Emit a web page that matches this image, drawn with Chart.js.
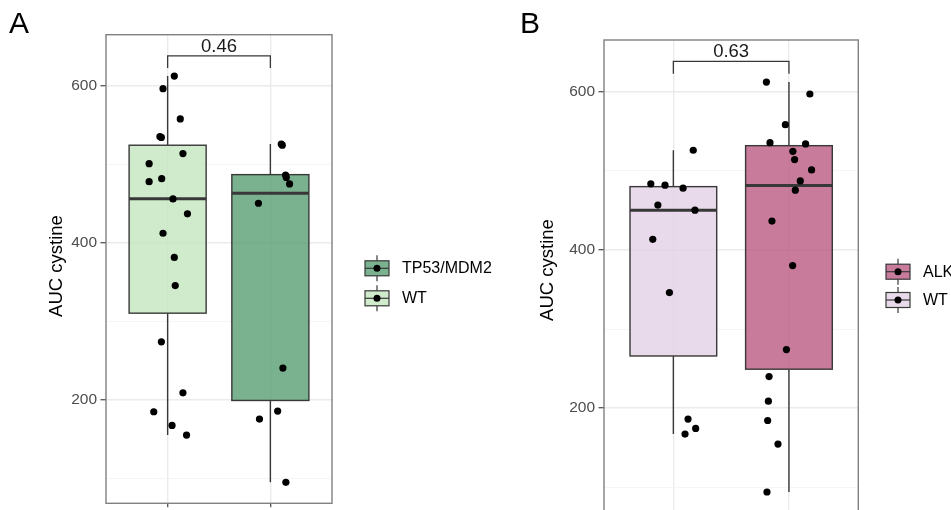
<!DOCTYPE html>
<html>
<head>
<meta charset="utf-8">
<title>AUC cystine by mutation status</title>
<script src="https://cdn.jsdelivr.net/npm/chart.js@4.4.1/dist/chart.umd.min.js"></script>
<style>
  html, body { margin: 0; padding: 0; background: #fff; overflow: hidden; width: 951px; height: 510px; }
  canvas { position: absolute; top: 0; }
  #panelA { left: 0; }
  #panelB { left: 475px; }
</style>
</head>
<body>
<canvas id="panelA" width="520" height="510"></canvas>
<canvas id="panelB" width="476" height="525"></canvas>
<script>
// shared y axis
const yTicks = [100, 200, 300, 400, 500, 600];
const yLabelled = [200, 400, 600];
const yMin = 68;
const yMax = 665.4;

// panel A: WT vs TP53/MDM2
const groupsA = ['WT', 'TP53/MDM2'];
const legendA = ['TP53/MDM2', 'WT'];
const pValueA = '0.46';
const wtA = [612.7, 596.6, 558, 535.5, 534.5, 513.8, 501, 478, 481.9, 456, 437, 412.3, 381.5, 345.6, 273.9, 208.9, 184.7, 167.3, 155];
const wtAJitter = [0.065, -0.045, 0.123, -0.075, -0.061, 0.149, -0.18, -0.18, -0.058, 0.052, 0.193, -0.045, 0.065, 0.074, -0.061, 0.149, -0.135, 0.043, 0.184];
const tp53 = [526, 524.5, 486.5, 483.5, 475.2, 450.5, 240.4, 185.6, 175.4, 94.7];
const tp53Jitter = [0.106, 0.116, 0.148, 0.155, 0.187, -0.116, 0.122, 0.071, -0.106, 0.151];
// [lower whisker, q1, median, q3, upper whisker]
const boxWtA = [155, 310.4, 456.4, 524.5, 612.7];
const boxTp53 = [94.7, 199.1, 463.3, 487, 526];

// panel B: WT vs ALK
const groupsB = ['WT', 'ALK'];
const legendB = ['ALK', 'WT'];
const pValueB = '0.63';
const wtB = [483.5, 481.8, 478, 526, 456.7, 450.3, 413.4, 346, 186.1, 174.3, 167.2];
const wtBJitter = [-0.195, -0.072, 0.084, 0.172, -0.134, 0.187, -0.178, -0.034, 0.127, 0.193, 0.101];
const alk = [612.2, 597.1, 558.3, 535.6, 534, 524.7, 514.2, 501.1, 487.2, 475.5, 436.4, 380.2, 274, 239.9, 208.8, 184.3, 154.5, 93.9];
const alkJitter = [-0.195, 0.181, -0.031, -0.164, 0.144, 0.034, 0.049, 0.196, 0.098, 0.055, -0.147, 0.032, -0.022, -0.172, -0.178, -0.184, -0.095, -0.19];
const boxWtB = [167.2, 265.9, 450.3, 480, 526];
const boxAlk = [93.9, 249.2, 481.3, 531.8, 612.2];

const FONT = '"Liberation Sans", Arial, Helvetica, sans-serif';
const LINE = '#383838';

function isMajor(c) {
  return c.tick && yLabelled.includes(c.tick.value);
}

function drawKey(ctx, cx, cy, fill) {
  ctx.strokeStyle = LINE;
  ctx.lineWidth = 1.2;
  ctx.beginPath();
  ctx.moveTo(cx, cy - 13); ctx.lineTo(cx, cy - 7.5);
  ctx.moveTo(cx, cy + 7.5); ctx.lineTo(cx, cy + 13);
  ctx.stroke();
  ctx.fillStyle = fill;
  ctx.fillRect(cx - 12, cy - 7.5, 24, 15);
  ctx.strokeRect(cx - 12, cy - 7.5, 24, 15);
  ctx.beginPath();
  ctx.moveTo(cx - 12, cy); ctx.lineTo(cx + 12, cy);
  ctx.stroke();
  ctx.fillStyle = '#000';
  ctx.beginPath();
  ctx.arc(cx, cy, 3.5, 0, Math.PI * 2);
  ctx.fill();
}

function makePanel(id, p) {
  const decor = {
    id: 'decor',
    beforeDatasetsDraw(chart) {
      const { ctx, scales: { x, y } } = chart;
      const half = x.getPixelForValue(1.375) - x.getPixelForValue(1);
      p.boxes.forEach((b, i) => {
        const cx = x.getPixelForValue(i + 1);
        const [lo, q1, med, q3, hi] = b.map(v => y.getPixelForValue(v));
        ctx.save();
        ctx.strokeStyle = LINE;
        ctx.lineWidth = 1.4;
        ctx.beginPath();
        ctx.moveTo(cx, q3); ctx.lineTo(cx, hi);
        ctx.moveTo(cx, q1); ctx.lineTo(cx, lo);
        ctx.stroke();
        ctx.fillStyle = p.fills[i];
        ctx.fillRect(cx - half, q3, 2 * half, q1 - q3);
        ctx.strokeRect(cx - half, q3, 2 * half, q1 - q3);
        ctx.lineWidth = 3;
        ctx.beginPath();
        ctx.moveTo(cx - half, med); ctx.lineTo(cx + half, med);
        ctx.stroke();
        ctx.restore();
      });
    },
    afterDatasetsDraw(chart) {
      const { ctx, chartArea: a, scales: { x, y } } = chart;
      ctx.save();
      // comparison bracket with p-value
      const x1 = x.getPixelForValue(1), x2 = x.getPixelForValue(2);
      const yTop = y.getPixelForValue(638.3), yEnd = y.getPixelForValue(622.8);
      ctx.strokeStyle = LINE;
      ctx.lineWidth = 1.3;
      ctx.beginPath();
      ctx.moveTo(x1, yEnd); ctx.lineTo(x1, yTop); ctx.lineTo(x2, yTop); ctx.lineTo(x2, yEnd);
      ctx.stroke();
      ctx.fillStyle = '#1a1a1a';
      ctx.font = '18.5px ' + FONT;
      ctx.textAlign = 'center';
      ctx.textBaseline = 'alphabetic';
      ctx.fillText(p.pValue, (x1 + x2) / 2, yTop - 4.3);
      // panel border
      ctx.strokeStyle = '#808080';
      ctx.lineWidth = 1.4;
      ctx.strokeRect(a.left, a.top, a.right - a.left, a.bottom - a.top);
      ctx.restore();
    },
    afterDraw(chart) {
      const { ctx } = chart;
      ctx.save();
      ctx.fillStyle = '#000';
      ctx.font = '30px ' + FONT;
      ctx.textAlign = 'left';
      ctx.textBaseline = 'alphabetic';
      ctx.fillText(p.tag, p.tagX, p.tagY);
      // y axis title
      ctx.font = '18.5px ' + FONT;
      ctx.translate(p.titleX, p.titleY);
      ctx.rotate(-Math.PI / 2);
      ctx.textAlign = 'center';
      ctx.textBaseline = 'middle';
      ctx.fillText('AUC cystine', 0, 0);
      ctx.restore();
      // legend
      ctx.save();
      p.legend.forEach((name, k) => {
        const cy = p.legendY[k];
        const fill = p.fills[p.groups.indexOf(name)];
        drawKey(ctx, p.keyX, cy, fill);
        ctx.fillStyle = '#000';
        ctx.font = '16px ' + FONT;
        ctx.textAlign = 'left';
        ctx.textBaseline = 'middle';
        ctx.fillText(name, p.keyX + 25, cy + 0.5);
      });
      ctx.restore();
    }
  };

  const datasets = p.groups.map((g, i) => ({
    label: g,
    data: p.values[i].map((v, k) => ({ x: i + 1 + p.jitter[i][k], y: v })),
    backgroundColor: '#000',
    borderWidth: 0,
    pointRadius: 3.6
  }));

  return new Chart(document.getElementById(id), {
    type: 'scatter',
    data: { datasets },
    plugins: [decor],
    options: {
      responsive: false,
      animation: false,
      events: [],
      devicePixelRatio: 1,
      layout: { padding: { left: 0, top: p.top, right: p.padRight, bottom: 0 } },
      plugins: { legend: { display: false }, tooltip: { enabled: false } },
      scales: {
        x: {
          type: 'linear', min: 0.4, max: 2.6,
          afterBuildTicks: s => { s.ticks = [1, 2].map(v => ({ value: v })); },
          afterFit: s => { s.height = p.xAxisHeight; s.paddingLeft = 0; s.paddingRight = 0; },
          ticks: { display: false },
          grid: { color: '#ebebeb', lineWidth: 1.4, tickLength: 4, tickColor: '#555', tickWidth: 1.3 },
          border: { display: false }
        },
        y: {
          type: 'linear', min: yMin, max: yMax,
          afterBuildTicks: s => { s.ticks = yTicks.map(v => ({ value: v })); },
          afterFit: s => { s.width = p.yAxisWidth; s.paddingTop = 0; s.paddingBottom = 0; },
          ticks: {
            callback: v => yLabelled.includes(v) ? String(v) : '',
            color: '#4d4d4d',
            font: { family: FONT, size: 15.5 },
            padding: 3.5,
            autoSkip: false
          },
          grid: {
            color: c => isMajor(c) ? '#ebebeb' : '#f3f3f3',
            lineWidth: c => isMajor(c) ? 1.4 : 0.8,
            tickLength: 5.5,
            tickColor: c => isMajor(c) ? '#555' : 'rgba(0,0,0,0)',
            tickWidth: 1.3
          },
          border: { display: false }
        }
      }
    }
  });
}

makePanel('panelA', {
  groups: groupsA, legend: legendA, pValue: pValueA,
  values: [wtA, tp53], jitter: [wtAJitter, tp53Jitter],
  boxes: [boxWtA, boxTp53],
  fills: ['rgba(196, 229, 191, 0.8)', 'rgba(89, 159, 116, 0.8)'],
  top: 34.7, padRight: 188, yAxisWidth: 106, xAxisHeight: 6.7,
  tag: 'A', tagX: 9, tagY: 33,
  titleX: 57, titleY: 266,
  keyX: 377, legendY: [268.3, 298.3]
});

makePanel('panelB', {
  groups: groupsB, legend: legendB, pValue: pValueB,
  values: [wtB, alk], jitter: [wtBJitter, alkJitter],
  boxes: [boxWtB, boxAlk],
  fills: ['rgba(226, 209, 229, 0.8)', 'rgba(188, 90, 131, 0.8)'],
  top: 40, padRight: 92.7, yAxisWidth: 129, xAxisHeight: 12.5,
  tag: 'B', tagX: 45, tagY: 32.7,
  titleX: 73, titleY: 270,
  keyX: 423, legendY: [271.7, 300]
});
</script>
</body>
</html>
